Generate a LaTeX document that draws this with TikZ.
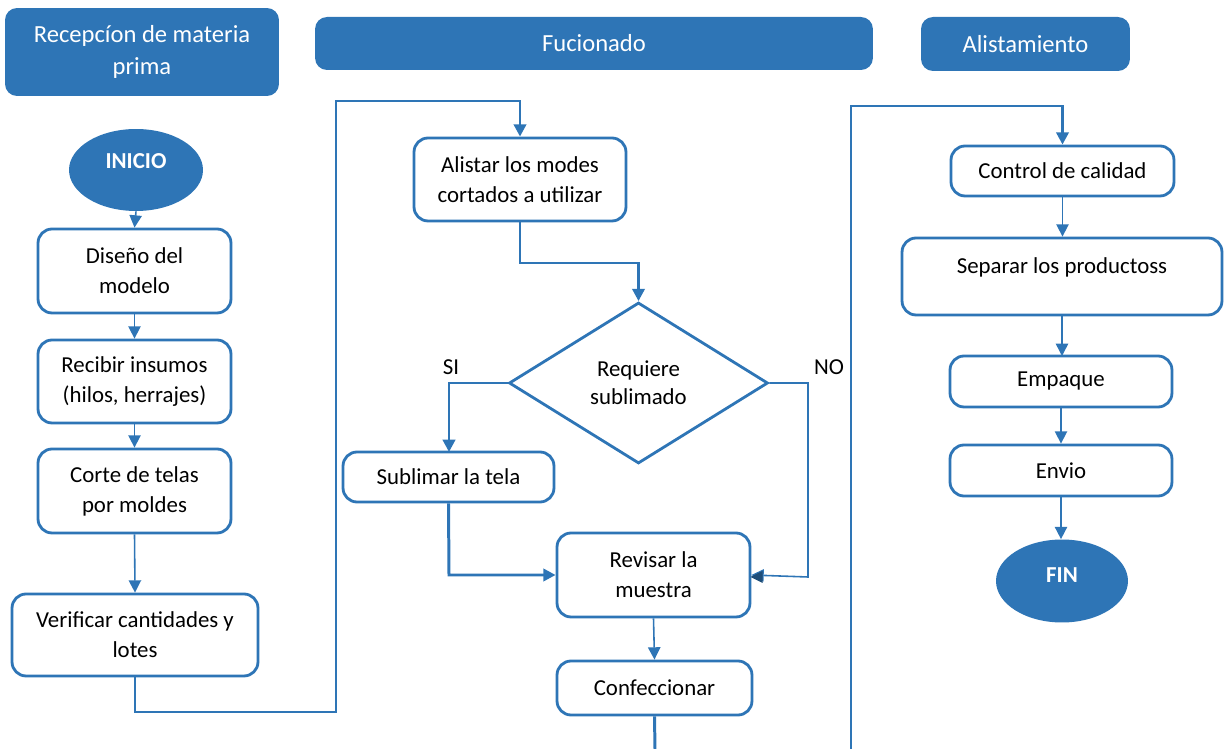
\documentclass[tikz,border=0pt]{standalone}
\usepackage{fontspec}
\setmainfont{Carlito}
\usetikzlibrary{shapes.geometric,arrows.meta}
\definecolor{mblue}{HTML}{2E75B6}
\definecolor{dblue}{HTML}{1F4E79}
\tikzset{
  pbox/.style={draw=mblue, line width=1.6pt, rounded corners=0.28cm, fill=white,
    align=center, font=\fontsize{13}{17}\selectfont, inner sep=2pt},
  hdr/.style={fill=mblue, rounded corners=0.24cm, text=white, align=center,
    font=\fontsize{14}{18}\selectfont, inner sep=2pt},
  term/.style={ellipse, fill=mblue, text=white, font=\bfseries\fontsize{13}{15}\selectfont, inner sep=0pt},
  dec/.style={diamond, draw=mblue, line width=1.6pt, align=center, inner sep=0pt,
    font=\fontsize{13}{16}\selectfont},
  thk/.style={draw=mblue, line width=1.7pt},
  thn/.style={draw=mblue, line width=0.9pt},
  arr/.style={-{Triangle[length=7pt,width=7pt]}},
  lbl/.style={font=\fontsize{13}{15}\selectfont}
}
\begin{document}
\begin{tikzpicture}[x=0.02cm,y=-0.02cm]
\useasboundingbox (0,0) rectangle (1225,749);
% headers
\node[hdr, minimum width=5.48cm, minimum height=1.76cm] (h1) at (142,52) {Recepcíon de materia\\prima};
\node[hdr, minimum width=11.16cm, minimum height=1.06cm] (h2) at (594,43.5) {Fucionado};
\node[hdr, minimum width=4.18cm, minimum height=1.08cm] (h3) at (1025.5,44) {Alistamiento};
% column 1
\node[term, minimum width=2.68cm, minimum height=1.64cm, text depth=10pt] (inicio) at (136,170) {INICIO};
\node[pbox, minimum width=3.86cm, minimum height=1.68cm] (diseno) at (134.5,271) {Diseño del\\modelo};
\node[pbox, minimum width=3.86cm, minimum height=1.66cm] (recibir) at (134.5,381.5) {Recibir insumos\\(hilos, herrajes)};
\node[pbox, minimum width=3.86cm, minimum height=1.68cm] (corte) at (134.5,491) {Corte de telas\\por moldes};
\node[pbox, minimum width=4.92cm, minimum height=1.64cm] (verif) at (135,635) {Verificar cantidades y\\lotes};
% column 2
\node[pbox, minimum width=4.24cm, minimum height=1.66cm] (alistar) at (520,179.5) {Alistar los modes\\cortados a utilizar};
\node[dec, minimum width=5.18cm, minimum height=3.22cm] (req) at (638.5,383) {Requiere\\sublimado};
\node[pbox, minimum width=4.22cm, minimum height=1.0cm] (subl) at (448.5,477) {Sublimar la tela};
\node[pbox, minimum width=3.86cm, minimum height=1.68cm] (revisar) at (653.5,575) {Revisar la\\muestra};
\node[pbox, minimum width=3.9cm, minimum height=1.08cm] (confec) at (654.5,688) {Confeccionar};
\node[lbl] (si) at (451,367) {SI};
\node[lbl] (no) at (829,367) {NO};
% column 3
\node[pbox, minimum width=4.46cm, minimum height=1.0cm] (control) at (1062.5,171) {Control de calidad};
\node[pbox, minimum width=6.4cm, minimum height=1.54cm, text depth=12pt] (separar) at (1062,276.5) {Separar los productoss};
\node[pbox, minimum width=4.44cm, minimum height=1.02cm] (empaque) at (1061,381.5) {Empaque};
\node[pbox, minimum width=4.44cm, minimum height=1.02cm] (envio) at (1061,470.5) {Envio};
\node[term, minimum width=2.64cm, minimum height=1.66cm, text depth=7pt] (fin) at (1062,581) {FIN};
% free ends
\coordinate (cbot) at (655,749);
\coordinate (lbot) at (851,749);
% connectors column 1
\draw[thn,arr] (inicio.south) -- (diseno.north);
\draw[thn,arr] (diseno.south) -- (recibir.north);
\draw[thn,arr] (recibir.south) -- (corte.north);
\draw[thn,arr] (corte.south) -- (verif.north);
\draw[thk,arr] (verif.south) -- (135,712) -- (336,712) -- (336,101) -- (alistar.north |- 0,101) -- (alistar.north);
% column 2
\draw[thk,arr] (alistar.south) -- (520,263) -- (638.5,263) -- (req.north);
\draw[thk,arr] (req.west) -- (449,383) -- (449,452);
\draw[thk,arr] (subl.south) -- (449,575) -- (revisar.west);
\draw[thn,-{Triangle[length=7pt,width=7pt]},draw=mblue] (req.east) -- (808,383) -- (808,577) -- (revisar.east);
\fill[dblue] (750.5,577) -- +(12,-6) -- +(12,6) -- cycle;
\draw[thn,arr] (revisar.south) -- (confec.north);
\draw[thk] (confec.south) -- (cbot);
% column 3
\draw[thk,arr] (lbot) -- (851,106) -- (1062.5,106) -- (control.north);
\draw[thn,arr] (control.south) -- (separar.north -| control.south);
\draw[thn,arr] (separar.south) -- (1062,356);
\draw[thn,arr] (empaque.south) -- (envio.north);
\draw[thn,arr] (envio.south) -- (fin.north -| envio.south);
\end{tikzpicture}
\end{document}
